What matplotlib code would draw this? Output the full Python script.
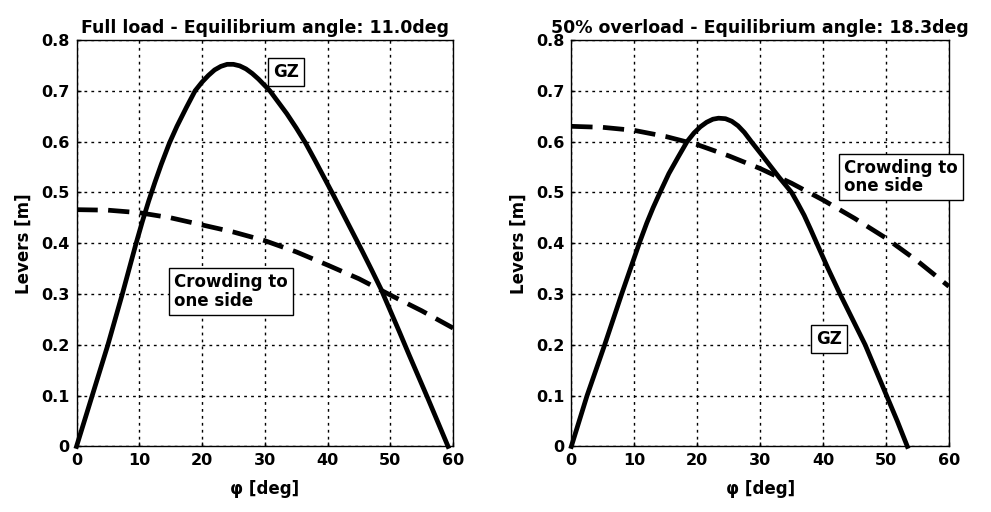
import numpy as np
import matplotlib.pyplot as plt

plt.rcParams['font.family'] = ['DejaVu Sans']
plt.rcParams['font.weight'] = 'bold'

# left panel: full load
phi_gz_full = [0, 2.5, 5.0, 7.3, 9.5, 10.5, 11.5, 12.5, 13.5, 14.8, 16.0, 17.5, 18.9, 20.0, 21.0,
               22.0, 23.0, 24.0, 25.0, 26.0, 27.0, 28.0, 29.0, 30.8, 32.0, 33.5, 35.0, 36.5,
               38.0, 39.5, 41.0, 42.5, 44.0, 45.5, 47.0, 48.5, 50.0, 51.5, 53.0, 54.5, 56.0, 57.5, 59.2]
gz_full = [0, 0.10, 0.20, 0.30, 0.40, 0.443, 0.483, 0.52, 0.555, 0.597, 0.63, 0.667, 0.70, 0.717, 0.73,
           0.741, 0.748, 0.752, 0.752, 0.749, 0.743, 0.734, 0.723, 0.70, 0.68, 0.655, 0.627, 0.597,
           0.563, 0.528, 0.493, 0.457, 0.421, 0.385, 0.348, 0.31, 0.267, 0.224, 0.18, 0.137, 0.094, 0.05, 0]
phi_crowd_full = [0, 5, 10, 15, 20, 25, 30, 35, 40, 45, 50, 55, 60]
crowd_full = [0.466, 0.465, 0.460, 0.450, 0.436, 0.422, 0.405, 0.383, 0.357, 0.330, 0.298, 0.267, 0.233]

# right panel: 50% overload
phi_gz_over = [0, 2.5, 5.3, 8.0, 10.8, 12.0, 13.0, 14.1, 15.5, 17.0, 18.4, 19.5, 20.5, 21.5, 22.5,
               23.4, 24.5, 25.5, 26.5, 27.5, 28.6, 30.0, 31.5, 33.0, 34.0, 35.0, 36.0, 37.0, 38.0,
               39.0, 40.8, 42.7, 44.7, 46.7, 48.4, 50.1, 51.8, 53.4]
gz_over = [0, 0.10, 0.20, 0.30, 0.40, 0.44, 0.47, 0.50, 0.537, 0.57, 0.60, 0.617, 0.629, 0.638, 0.644,
           0.646, 0.645, 0.64, 0.631, 0.618, 0.60, 0.578, 0.554, 0.53, 0.515, 0.50, 0.478, 0.455, 0.428,
           0.40, 0.35, 0.30, 0.25, 0.20, 0.15, 0.10, 0.05, 0]
phi_crowd_over = [0, 5, 10, 15, 20, 25, 30, 35, 40, 45, 50, 55, 60]
crowd_over = [0.630, 0.628, 0.622, 0.610, 0.594, 0.572, 0.547, 0.518, 0.485, 0.449, 0.410, 0.365, 0.315]

titles = ['Full load - Equilibrium angle: 11.0deg',
          '50% overload - Equilibrium angle: 18.3deg']

fig = plt.figure(figsize=(9.91, 5.12), dpi=100)
ax1 = fig.add_axes([0.0772, 0.128, 0.380, 0.794])
ax2 = fig.add_axes([0.5765, 0.128, 0.381, 0.794])

panels = [
    (ax1, phi_gz_full, gz_full, phi_crowd_full, crowd_full, titles[0]),
    (ax2, phi_gz_over, gz_over, phi_crowd_over, crowd_over, titles[1]),
]

box = dict(boxstyle='square,pad=0.3', facecolor='white', edgecolor='black', linewidth=1)

for ax, px, gz, cx, cr, title in panels:
    ax.plot(px, gz, color='black', lw=3.4, solid_joinstyle='round', clip_on=False)
    ax.plot(cx, cr, color='black', lw=3.4, linestyle=(0, (4.5, 2.2)), dash_capstyle='butt')
    ax.set_xlim(0, 60)
    ax.set_ylim(0, 0.8)
    ax.set_xticks(np.arange(0, 61, 10))
    ax.set_yticks(np.arange(0, 0.81, 0.1))
    ax.set_yticklabels(['0', '0.1', '0.2', '0.3', '0.4', '0.5', '0.6', '0.7', '0.8'])
    ax.grid(True, color='black', linestyle=(0, (2, 3)), linewidth=1.0)
    ax.tick_params(direction='in', length=3, labelsize=11.5, width=1, pad=5)
    for lab in ax.get_xticklabels() + ax.get_yticklabels():
        lab.set_fontweight('bold')
    for s in ax.spines.values():
        s.set_linewidth(1.0)
    ax.set_title(title, fontsize=12.5, fontweight='bold', pad=5)
    ax.set_xlabel('φ [deg]', fontsize=12, fontweight='bold', labelpad=8)
    ax.set_ylabel('Levers [m]', fontsize=12, fontweight='bold', labelpad=6)

ax1.text(31.3, 0.737, 'GZ', fontsize=12, fontweight='bold', va='center', ha='left', bbox=box)
ax1.text(15.6, 0.305, 'Crowding to\none side', fontsize=12, fontweight='bold',
         va='center', ha='left', linespacing=1.05, bbox=box)

ax2.text(38.9, 0.212, 'GZ', fontsize=12, fontweight='bold', va='center', ha='left', bbox=box)
ax2.text(43.4, 0.530, 'Crowding to\none side', fontsize=12, fontweight='bold',
         va='center', ha='left', linespacing=1.05, bbox=box, clip_on=False)

fig.savefig('out.png', dpi=100)
